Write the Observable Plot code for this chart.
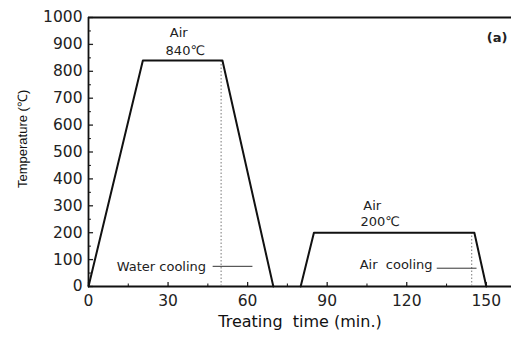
<!DOCTYPE html>
<html>
<head>
<meta charset="utf-8">
<script src="https://cdn.jsdelivr.net/npm/d3@7"></script>
<script src="https://cdn.jsdelivr.net/npm/@observablehq/plot@0.6"></script>
<style>
  html, body { margin: 0; padding: 0; background: #fff; }
  #chart svg { display: block; }
</style>
</head>
<body>
<div id="chart"></div>
<script>
// Heat-treatment schedule (a)
const stage1Time = [0, 20.5, 50.5, 69.7];
const stage1Temp = [0, 840, 840, 0];
const stage2Time = [80, 85, 145.5, 150];
const stage2Temp = [0, 200, 200, 0];

// dotted markers where cooling starts
const coolStartTime = [50, 144.5];
const coolStartTemp = [840, 200];

// tick values
const yMajorTicks = [0, 100, 200, 300, 400, 500, 600, 700, 800, 900, 1000];
const yMinorTicks = [50, 150, 250, 350, 450, 550, 650, 750, 850, 950];
const xMajorTicks = [0, 30, 60, 90, 120, 150];
const xMinorTicks = [15, 45, 75, 105, 135];

// annotations
const noteText = ["Air", "840℃", "Air", "200℃"];
const noteX = [34, 36.5, 107, 110];
const noteY = [944, 877, 301, 242];
const coolText = ["Water cooling", "Air  cooling"];
const coolTextX = [27.5, 116];
const coolTextY = [72, 79];
const coolLineX1 = [47, 131.5];
const coolLineX2 = [62, 146.5];
const coolLineY = [75, 68];

const stages = [
  ...stage1Time.map((t, i) => ({time: t, temp: stage1Temp[i], stage: "1"})),
  ...stage2Time.map((t, i) => ({time: t, temp: stage2Temp[i], stage: "2"}))
];
const notes = noteText.map((s, i) => ({s, x: noteX[i], y: noteY[i]}));
const cools = coolText.map((s, i) => ({s, x: coolTextX[i], y: coolTextY[i], x1: coolLineX1[i], x2: coolLineX2[i], ly: coolLineY[i]}));
const markers = coolStartTime.map((t, i) => ({t, top: coolStartTemp[i]}));

const font = "DejaVu Sans, sans-serif";

const chart = Plot.plot({
  width: 511,
  height: 337,
  marginLeft: 88,
  marginRight: 0,
  marginTop: 17,
  marginBottom: 51,
  style: {fontFamily: font, background: "#fff", color: "#111"},
  x: {domain: [0, 159.5]},
  y: {domain: [0, 1000]},
  marks: [
    // tick labels
    Plot.axisY({ticks: yMajorTicks, tickFormat: d3.format("d"), tickSize: 0, tickPadding: 6, fontSize: 15.5, label: null, fill: "#222"}),
    Plot.axisX({ticks: xMajorTicks, tickFormat: d3.format("d"), tickSize: 0, tickPadding: 8, fontSize: 15.5, label: null, fill: "#222"}),
    // inward tick marks
    Plot.ruleY(yMajorTicks, {y: d => d, x1: 0, x2: 1.9, stroke: "#222", strokeWidth: 1.3}),
    Plot.ruleY(yMinorTicks, {y: d => d, x1: 0, x2: 1.1, stroke: "#222", strokeWidth: 1.1}),
    Plot.ruleX(xMajorTicks, {x: d => d, y1: 0, y2: 15, stroke: "#222", strokeWidth: 1.3}),
    Plot.ruleX(xMinorTicks, {x: d => d, y1: 0, y2: 9, stroke: "#222", strokeWidth: 1.1}),
    // frame lines
    Plot.ruleX([0], {stroke: "#111", strokeWidth: 1.8}),
    Plot.ruleY([0], {stroke: "#111", strokeWidth: 1.8}),
    Plot.ruleY([1000], {stroke: "#111", strokeWidth: 1.8}),
    // dotted cooling markers
    Plot.ruleX(markers, {x: "t", y1: 0, y2: "top", stroke: "#777", strokeWidth: 1, strokeDasharray: "1.5,2"}),
    // schedule
    Plot.line(stages, {x: "time", y: "temp", z: "stage", stroke: "#111", strokeWidth: 2}),
    // annotations
    Plot.text(notes, {x: "x", y: "y", text: "s", fontSize: 13, fill: "#222"}),
    Plot.text(cools, {x: "x", y: "y", text: "s", fontSize: 13, fill: "#222"}),
    Plot.ruleY(cools, {y: "ly", x1: "x1", x2: "x2", stroke: "#333", strokeWidth: 1}),
    Plot.text(["(a)"], {frameAnchor: "top-right", dx: -4, dy: 15, textAnchor: "end", fontSize: 13, fontWeight: "bold", fill: "#222"}),
    // axis titles
    Plot.text(["Treating  time (min.)"], {frameAnchor: "bottom", dy: 40, fontSize: 16, fill: "#111", style: "white-space: pre"}),
    Plot.text(["Temperature (℃)"], {frameAnchor: "left", dx: -66, dy: 36, rotate: -90, fontSize: 13, fontFamily: "Liberation Sans, Arial, sans-serif", fill: "#111"})
  ]
});
document.getElementById("chart").appendChild(chart);
</script>
</body>
</html>
